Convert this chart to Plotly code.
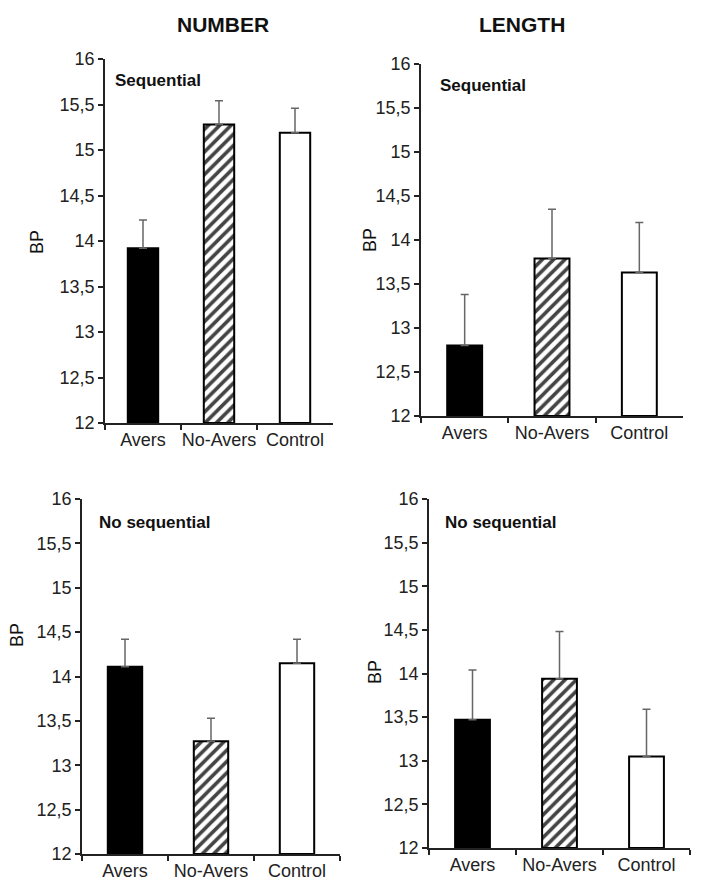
import plotly.graph_objects as go

# The page body adds an 8px margin, so the figure is sized to fit the window
OFF = 8
W, H = 703 - OFF, 896 - OFF

categories = ["Avers", "No-Avers", "Control"]
y_ticks = [12, 12.5, 13, 13.5, 14, 14.5, 15, 15.5, 16]

num_seq_mean = [13.92, 15.28, 15.19]
num_seq_err = [0.31, 0.26, 0.27]
len_seq_mean = [12.80, 13.79, 13.63]
len_seq_err = [0.58, 0.56, 0.57]
num_noseq_mean = [14.11, 13.27, 14.15]
num_noseq_err = [0.31, 0.26, 0.27]
len_noseq_mean = [13.47, 13.94, 13.05]
len_noseq_err = [0.57, 0.54, 0.54]


def px(x):
    return (x - OFF) / W


def py(y):
    return 1 - (y - OFF) / H


panels = [
    # (means, errs, x-domain px, y-domain px (top,bottom), label, label pos px, BP pos px)
    (num_seq_mean, num_seq_err, (105, 333), (59, 423), "Sequential", (113, 80), (37, 242)),
    (len_seq_mean, len_seq_err, (421, 683), (64, 416), "Sequential", (438, 86), (370, 240)),
    (num_noseq_mean, num_noseq_err, (82, 340), (499, 854), "No sequential", (97, 522), (17, 635)),
    (len_noseq_mean, len_noseq_err, (429, 690), (499, 848), "No sequential", (443, 522), (375, 672)),
]

fig = go.Figure()
FONT = "Liberation Sans, Arial, sans-serif"
annotations = []

for i, (means, errs, xd, yd, label, lpos, bppos) in enumerate(panels):
    n = "" if i == 0 else str(i + 1)
    xa = "x" + n
    ya = "y" + n
    fig.add_trace(go.Bar(
        x=categories, y=[m - 12 for m in means], base=12,
        xaxis=xa, yaxis=ya,
        width=0.4,
        marker=dict(
            color=["black", "white", "white"],
            line=dict(color="black", width=2),
            pattern=dict(shape=["", "/", ""], fgcolor="black",
                         fgopacity=1, size=8, solidity=0.45, fillmode="overlay"),
        ),
        error_y=dict(type="data", symmetric=False, array=errs, arrayminus=[0, 0, 0],
                     color="#666666", thickness=1.5, width=4),
        showlegend=False,
        hoverinfo="skip",
    ))
    fig.update_layout(**{
        ("xaxis" + n): dict(
            domain=[px(xd[0]), px(xd[1])], anchor=ya,
            range=[-0.5, 2.5], type="category", automargin=False, tickangle=0,
            showline=True, linecolor="#222", linewidth=1.5,
            ticks="outside", tickson="boundaries", ticklen=5, tickcolor="#222", tickwidth=1.5,
            tickfont=dict(family=FONT, size=18, color="#222"),
            showgrid=False, zeroline=False, fixedrange=True,
        ),
        ("yaxis" + n): dict(
            domain=[py(yd[1]), py(yd[0])], anchor=xa,
            range=[12, 16], tickvals=y_ticks, automargin=False,
            showline=True, linecolor="#222", linewidth=1.5,
            ticks="outside", ticklen=5, tickcolor="#222", tickwidth=1.5,
            tickfont=dict(family=FONT, size=18, color="#222"),
            showgrid=False, zeroline=False, fixedrange=True,
        ),
    })
    annotations.append(dict(
        text="<b>" + label + "</b>", x=px(lpos[0]), y=py(lpos[1]),
        xref="paper", yref="paper", xanchor="left", yanchor="middle",
        showarrow=False, font=dict(family=FONT, size=17, color="#111"),
    ))
    annotations.append(dict(
        text="BP", x=px(bppos[0]), y=py(bppos[1]),
        xref="paper", yref="paper", xanchor="center", yanchor="middle",
        textangle=-90, showarrow=False, font=dict(family=FONT, size=18, color="#111"),
    ))

annotations.append(dict(text="<b>NUMBER</b>", x=px(223), y=py(24), xref="paper", yref="paper",
                        xanchor="center", yanchor="middle",
                        showarrow=False, font=dict(family=FONT, size=21, color="#111")))
annotations.append(dict(text="<b>LENGTH</b>", x=px(522), y=py(24), xref="paper", yref="paper",
                        xanchor="center", yanchor="middle",
                        showarrow=False, font=dict(family=FONT, size=21, color="#111")))

fig.update_layout(
    template="none",
    width=W, height=H,
    margin=dict(l=0, r=0, t=0, b=0, autoexpand=False),
    paper_bgcolor="white", plot_bgcolor="white",
    separators=", ",
    annotations=annotations,
    bargap=0.6,
)

fig.write_html("out.html")
